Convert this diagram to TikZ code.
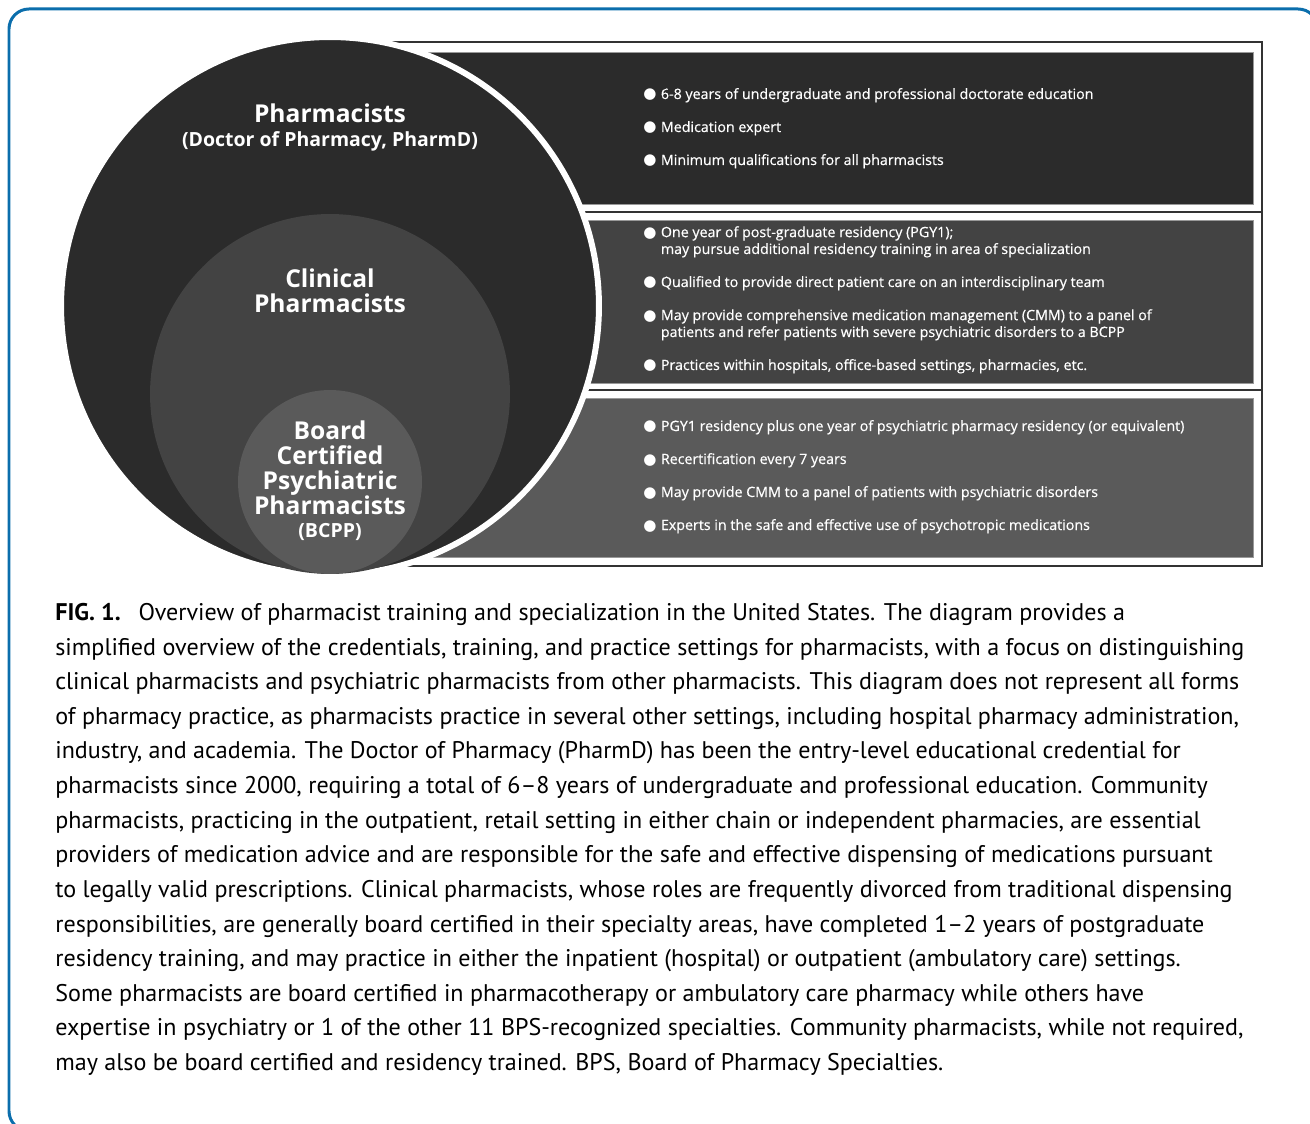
\documentclass[tikz,border=0pt]{standalone}
\usepackage{fontspec}
\setmainfont{PT Sans}
\newfontfamily\osfont{Open Sans}
\newfontfamily\osmed[FakeBold=0.5]{Open Sans}
\newfontfamily\symfont{DejaVu Sans}
\definecolor{shadeA}{HTML}{2B2B2B}
\definecolor{shadeB}{HTML}{434343}
\definecolor{shadeC}{HTML}{5A5A5A}
\definecolor{frameblue}{HTML}{0B6EAC}
\newcommand{\pbul}{\makebox[10pt][l]{\symfont\fontsize{8.6}{9}\selectfont ●}}
\newcommand{\pind}{\hspace*{10pt}}

\begin{document}
\begin{tikzpicture}[
    x=0.02cm, y=-0.02cm,
    circ/.style={circle, inner sep=0pt, outer sep=0pt},
    panelbox/.style={draw=black!40, line width=0.5pt},
    sepline/.style={draw=black!80, line width=0.9pt},
    ctitle/.style={text=white, align=center, inner sep=0pt,
                   font=\osfont\bfseries\fontsize{14}{14.2}\selectfont},
    csub/.style={text=white, inner sep=0pt,
                 font=\osfont\bfseries\fontsize{11.1}{12}\selectfont},
    item/.style={anchor=base west, text=white, inner sep=0pt, align=left,
                 font=\osmed\fontsize{8.1}{9.6}\selectfont}
]
    \useasboundingbox (0,0) rectangle (1310,1124);
    % blue frame, cut by the page
    \begin{scope}
        \clip (0,0) rectangle (1310,1124);
        \draw[frameblue, line width=1.7pt, rounded corners=0.4cm]
            (9,9) rectangle (1318,1131);
    \end{scope}

    % right-hand panel
    \draw[sepline] (330,42) -- (1262,42) -- (1262,566) -- (330,566);
    \draw[sepline] (330,212) -- (1262,212);
    \draw[sepline] (330,390) -- (1262,390);
    \filldraw[panelbox, fill=shadeA] (330,52) rectangle (1253,204);
    \filldraw[panelbox, fill=shadeB] (330,220) rectangle (1253,383);
    \filldraw[panelbox, fill=shadeC] (330,398) rectangle (1253,557);

    % nested circles
    \node[circ, fill=shadeA, draw=white, line width=3.4pt,
          minimum size=10.76cm] (pharm) at (330,306) {};
    \node[circ, fill=shadeB, minimum size=7.2cm] (clin) at (330,394) {};
    \node[circ, fill=shadeC, minimum size=3.68cm] (bcpp) at (330,482) {};

    \node[ctitle] (pharmT) at (330,113) {Pharmacists};
    \node[csub] (pharmS) at (330,141) {(Doctor of Pharmacy, PharmD)};
    \node[ctitle] (clinT) at (330,291) {Clinical\\Pharmacists};
    \node[ctitle] (bcppT) at (330,468)
        {Board\\Certified\\Psychiatric\\Pharmacists};
    \node[csub] (bcppS) at (330,532) {(BCPP)};

    % bullet lists (base = last line)
    \node[item] (a1) at (643,99) {\pbul 6-8 years of undergraduate and professional doctorate education};
    \node[item] (a2) at (643,132) {\pbul Medication expert};
    \node[item] (a3) at (643,165) {\pbul Minimum qualifications for all pharmacists};

    \node[item] (b1) at (643,254) {\pbul One year of post-graduate residency (PGY1);\\
        \pind may pursue additional residency training in area of specialization};
    \node[item] (b2) at (643,287) {\pbul Qualified to provide direct patient care on an interdisciplinary team};
    \node[item] (b3) at (643,337) {\pbul May provide comprehensive medication management (CMM) to a panel of\\
        \pind patients and refer patients with severe psychiatric disorders to a BCPP};
    \node[item] (b4) at (643,370) {\pbul Practices within hospitals, office-based settings, pharmacies, etc.};

    \node[item] (c1) at (643,431) {\pbul PGY1 residency plus one year of psychiatric pharmacy residency (or equivalent)};
    \node[item] (c2) at (643,464) {\pbul Recertification every 7 years};
    \node[item] (c3) at (643,497) {\pbul May provide CMM to a panel of patients with psychiatric disorders};
    \node[item] (c4) at (643,530) {\pbul Experts in the safe and effective use of psychotropic medications};

    % caption
    \node[anchor=north west, inner sep=0pt, align=left, text=black,
          font=\fontsize{13.7}{19.7}\selectfont] (caption) at (55,603)
        {\textbf{FIG. 1.}\hspace{0.75em}Overview of pharmacist training and specialization in the United States. The diagram provides a\\
         simplified overview of the credentials, training, and practice settings for pharmacists, with a focus on distinguishing\\
         clinical pharmacists and psychiatric pharmacists from other pharmacists. This diagram does not represent all forms\\
         of pharmacy practice, as pharmacists practice in several other settings, including hospital pharmacy administration,\\
         industry, and academia. The Doctor of Pharmacy (PharmD) has been the entry-level educational credential for\\
         pharmacists since 2000, requiring a total of 6--8 years of undergraduate and professional education. Community\\
         pharmacists, practicing in the outpatient, retail setting in either chain or independent pharmacies, are essential\\
         providers of medication advice and are responsible for the safe and effective dispensing of medications pursuant\\
         to legally valid prescriptions. Clinical pharmacists, whose roles are frequently divorced from traditional dispensing\\
         responsibilities, are generally board certified in their specialty areas, have completed 1--2 years of postgraduate\\
         residency training, and may practice in either the inpatient (hospital) or outpatient (ambulatory care) settings.\\
         Some pharmacists are board certified in pharmacotherapy or ambulatory care pharmacy while others have\\
         expertise in psychiatry or 1 of the other 11 BPS-recognized specialties. Community pharmacists, while not required,\\
         may also be board certified and residency trained. BPS, Board of Pharmacy Specialties.};
\end{tikzpicture}
\end{document}
